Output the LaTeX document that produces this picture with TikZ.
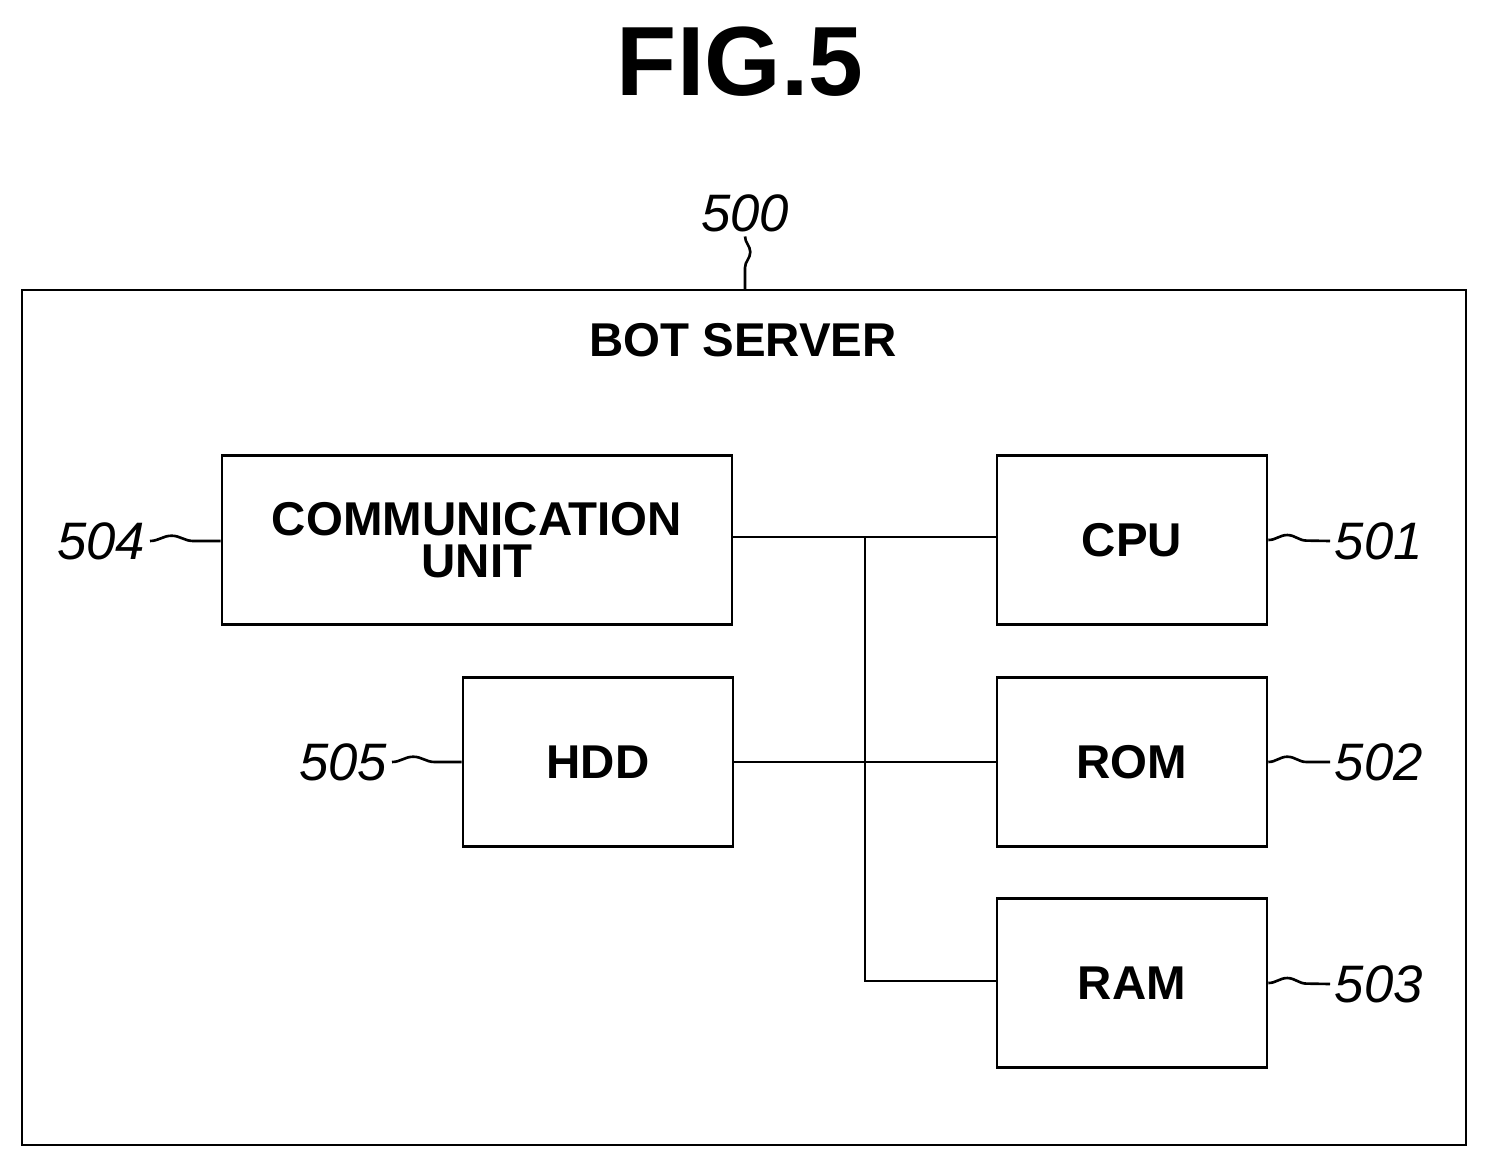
\documentclass[tikz,border=0pt]{standalone}
\usepackage{fontspec}
\setmainfont{Liberation Sans}
\usetikzlibrary{decorations.pathmorphing}
\begin{document}
\begin{tikzpicture}[x=0.02cm,y=-0.02cm,line width=1.5pt,
  unit/.style={draw,minimum height=3.38cm,font=\fontsize{27}{24}\selectfont\bfseries,align=center,inner sep=0pt},
  ref/.style={font=\fontsize{30}{30}\selectfont\itshape,inner sep=2pt},
  wave/.style={decorate,decoration={snake,segment length=#1,amplitude=3pt,pre length=0pt,post length=0pt}}]
  \useasboundingbox (0,0) rectangle (1488,1168);

  % title
  \node[font=\fontsize{56}{56}\selectfont\bfseries] (fig) at (740,62) {FIG.5};

  % server frame
  \draw (22,290) rectangle (1466,1145);
  \coordinate (top) at (745,290);
  \node[ref] (l500) at (745,213) {500};
  \draw[wave=1.0cm] (l500.south) -- (top);
  \node[font=\fontsize{27}{28}\selectfont\bfseries] (srv) at (743,340) {BOT SERVER};

  % units
  \node[unit,minimum width=10.2cm] (comm) at (477,540) {COMMUNICATION\\UNIT};
  \node[unit,minimum width=5.4cm] (cpu) at (1132,540) {CPU};
  \node[unit,minimum width=5.4cm] (hdd) at (598,762) {HDD};
  \node[unit,minimum width=5.4cm] (rom) at (1132,762) {ROM};
  \node[unit,minimum width=5.4cm] (ram) at (1132,983) {RAM};

  % bus
  \coordinate (b1) at (865,537);
  \coordinate (b3) at (865,981);
  \draw (comm.east |- b1) -- (cpu.west |- b1);
  \draw (hdd.east) -- (rom.west);
  \draw (b1) -- (b3) -- (ram.west |- b3);

  % reference numerals
  \node[ref,anchor=east] (l504) at (150,541) {504};
  \node[ref,anchor=east] (l505) at (392,762) {505};
  \node[ref,anchor=west] (l501) at (1330,541) {501};
  \node[ref,anchor=west] (l502) at (1330,762) {502};
  \node[ref,anchor=west] (l503) at (1330,984) {503};
  \draw[wave=1.38cm] (l504.east) -- (comm.west |- l504.east);
  \draw[wave=1.36cm] (l505.east) -- (hdd.west);
  \draw[wave=1.22cm] (cpu.east) -- (l501.west);
  \draw[wave=1.22cm] (rom.east) -- (l502.west);
  \draw[wave=1.22cm] (ram.east) -- (l503.west);
\end{tikzpicture}
\end{document}
